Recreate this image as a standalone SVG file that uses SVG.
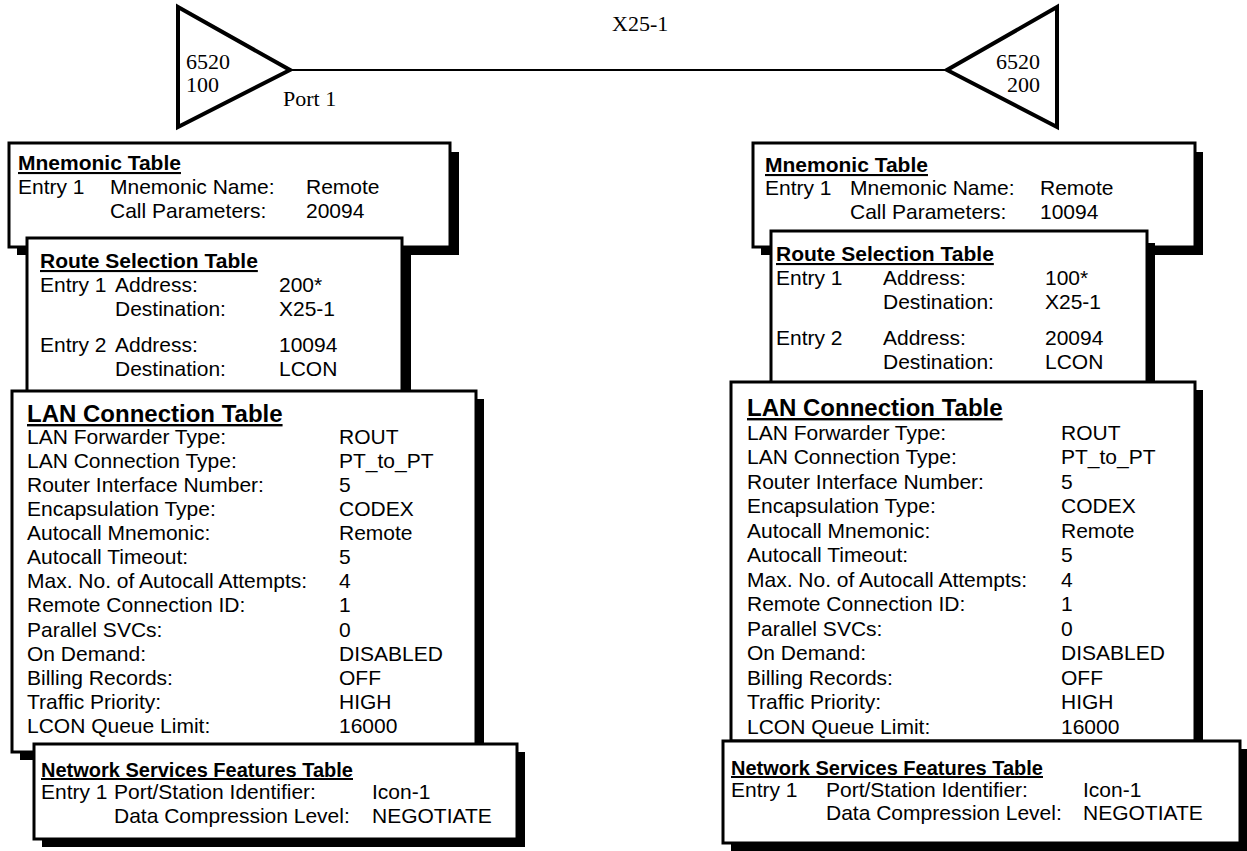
<svg xmlns="http://www.w3.org/2000/svg" width="1247" height="851" viewBox="0 0 1247 851">
  <style>
    .bg { fill: #ffffff; }
    .box { fill: #ffffff; stroke: #000000; stroke-width: 3; }
    .shadow { fill: #000000; }
    .node { fill: #ffffff; stroke: #000000; stroke-width: 4; stroke-linejoin: miter; }
    .link { stroke: #000000; stroke-width: 2; fill: none; }
    .serif { font-family: "Liberation Serif", "Times New Roman", serif; font-size: 22px; fill: #000; }
    .t { font-family: "Liberation Sans", Arial, sans-serif; font-size: 21px; fill: #000; }
    .h { font-family: "Liberation Sans", Arial, sans-serif; font-size: 21px; font-weight: bold; text-decoration: underline; fill: #000; }
    .hl { font-size: 24px; }
    .hs { font-size: 20px; }
  </style>

  <rect class="bg" x="0" y="0" width="1247" height="851"/>

  <!-- X.25 link between the two switches -->
  <g id="connectors">
    <line class="link" x1="290" y1="70" x2="947" y2="70"/>
    <text class="serif" x="612" y="31">X25-1</text>
    <text class="serif" x="283" y="106">Port 1</text>
  </g>

  <!-- switch 100 -->
  <g id="node-6520-100">
    <polygon class="node" points="178,7 290,70 178,127"/>
    <text class="serif" x="186" y="69">6520</text>
    <text class="serif" x="186" y="92">100</text>
  </g>

  <!-- switch 200 -->
  <g id="node-6520-200">
    <polygon class="node" points="1057,7 947,70 1057,127"/>
    <text class="serif" x="1040" y="69" text-anchor="end">6520</text>
    <text class="serif" x="1040" y="92" text-anchor="end">200</text>
  </g>

  <!-- ===== tables for switch 100 ===== -->
  <g id="mnemonic-100">
    <rect class="shadow" x="17" y="152" width="442" height="103"/>
    <rect class="box" x="9" y="143" width="441" height="104"/>
    <text class="h" x="18" y="170">Mnemonic Table</text>
    <text class="t" x="18" y="194">Entry 1</text>
    <text class="t" x="110" y="194">Mnemonic Name:</text>
    <text class="t" x="306" y="194">Remote</text>
    <text class="t" x="110" y="218">Call Parameters:</text>
    <text class="t" x="306" y="218">20094</text>
  </g>

  <g id="route-100">
    <rect class="shadow" x="35" y="251" width="376" height="141"/>
    <rect class="box" x="27" y="238" width="375" height="154"/>
    <text class="h" x="40" y="268">Route Selection Table</text>
    <text class="t" x="40" y="292">Entry 1</text>
    <text class="t" x="115" y="292">Address:</text>
    <text class="t" x="279" y="292">200*</text>
    <text class="t" x="115" y="316">Destination:</text>
    <text class="t" x="279" y="316">X25-1</text>
    <text class="t" x="40" y="352">Entry 2</text>
    <text class="t" x="115" y="352">Address:</text>
    <text class="t" x="279" y="352">10094</text>
    <text class="t" x="115" y="376">Destination:</text>
    <text class="t" x="279" y="376">LCON</text>
  </g>

  <g id="lan-100">
    <rect class="shadow" x="20" y="399" width="464" height="361"/>
    <rect class="box" x="12" y="391" width="464" height="361"/>
    <text class="h hl" x="27" y="422">LAN Connection Table</text>
    <g class="t">
      <text x="27" y="444">LAN Forwarder Type:</text><text x="339" y="444">ROUT</text>
      <text x="27" y="468">LAN Connection Type:</text><text x="339" y="468">PT_to_PT</text>
      <text x="27" y="492">Router Interface Number:</text><text x="339" y="492">5</text>
      <text x="27" y="516">Encapsulation Type:</text><text x="339" y="516">CODEX</text>
      <text x="27" y="540">Autocall Mnemonic:</text><text x="339" y="540">Remote</text>
      <text x="27" y="564">Autocall Timeout:</text><text x="339" y="564">5</text>
      <text x="27" y="588">Max. No. of Autocall Attempts:</text><text x="339" y="588">4</text>
      <text x="27" y="612">Remote Connection ID:</text><text x="339" y="612">1</text>
      <text x="27" y="637">Parallel SVCs:</text><text x="339" y="637">0</text>
      <text x="27" y="661">On Demand:</text><text x="339" y="661">DISABLED</text>
      <text x="27" y="685">Billing Records:</text><text x="339" y="685">OFF</text>
      <text x="27" y="709">Traffic Priority:</text><text x="339" y="709">HIGH</text>
      <text x="27" y="733">LCON Queue Limit:</text><text x="339" y="733">16000</text>
    </g>
  </g>

  <g id="nsf-100">
    <rect class="shadow" x="42" y="752" width="483" height="95"/>
    <rect class="box" x="34" y="744" width="483" height="95"/>
    <text class="h hs" x="41" y="777">Network Services Features Table</text>
    <text class="t" x="41" y="799">Entry 1</text>
    <text class="t" x="114" y="799">Port/Station Identifier:</text>
    <text class="t" x="372" y="799">Icon-1</text>
    <text class="t" x="114" y="823">Data Compression Level:</text>
    <text class="t" x="372" y="823">NEGOTIATE</text>
  </g>

  <!-- ===== tables for switch 200 ===== -->
  <g id="mnemonic-200">
    <rect class="shadow" x="761" y="152" width="442" height="103"/>
    <rect class="box" x="753" y="143" width="442" height="104"/>
    <text class="h" x="765" y="172">Mnemonic Table</text>
    <text class="t" x="765" y="195">Entry 1</text>
    <text class="t" x="850" y="195">Mnemonic Name:</text>
    <text class="t" x="1040" y="195">Remote</text>
    <text class="t" x="850" y="219">Call Parameters:</text>
    <text class="t" x="1040" y="219">10094</text>
  </g>

  <g id="route-200">
    <rect class="shadow" x="779" y="243" width="376" height="140"/>
    <rect class="box" x="771" y="231" width="376" height="152"/>
    <text class="h" x="776" y="261">Route Selection Table</text>
    <text class="t" x="776" y="285">Entry 1</text>
    <text class="t" x="883" y="285">Address:</text>
    <text class="t" x="1045" y="285">100*</text>
    <text class="t" x="883" y="309">Destination:</text>
    <text class="t" x="1045" y="309">X25-1</text>
    <text class="t" x="776" y="345">Entry 2</text>
    <text class="t" x="883" y="345">Address:</text>
    <text class="t" x="1045" y="345">20094</text>
    <text class="t" x="883" y="369">Destination:</text>
    <text class="t" x="1045" y="369">LCON</text>
  </g>

  <g id="lan-200">
    <rect class="shadow" x="739" y="390" width="464" height="359"/>
    <rect class="box" x="731" y="382" width="464" height="359"/>
    <text class="h hl" x="747" y="416">LAN Connection Table</text>
    <g class="t">
      <text x="747" y="440">LAN Forwarder Type:</text><text x="1061" y="440">ROUT</text>
      <text x="747" y="464">LAN Connection Type:</text><text x="1061" y="464">PT_to_PT</text>
      <text x="747" y="489">Router Interface Number:</text><text x="1061" y="489">5</text>
      <text x="747" y="513">Encapsulation Type:</text><text x="1061" y="513">CODEX</text>
      <text x="747" y="538">Autocall Mnemonic:</text><text x="1061" y="538">Remote</text>
      <text x="747" y="562">Autocall Timeout:</text><text x="1061" y="562">5</text>
      <text x="747" y="587">Max. No. of Autocall Attempts:</text><text x="1061" y="587">4</text>
      <text x="747" y="611">Remote Connection ID:</text><text x="1061" y="611">1</text>
      <text x="747" y="636">Parallel SVCs:</text><text x="1061" y="636">0</text>
      <text x="747" y="660">On Demand:</text><text x="1061" y="660">DISABLED</text>
      <text x="747" y="685">Billing Records:</text><text x="1061" y="685">OFF</text>
      <text x="747" y="709">Traffic Priority:</text><text x="1061" y="709">HIGH</text>
      <text x="747" y="734">LCON Queue Limit:</text><text x="1061" y="734">16000</text>
    </g>
  </g>

  <g id="nsf-200">
    <rect class="shadow" x="731" y="749" width="517" height="102"/>
    <rect class="box" x="723" y="741" width="517" height="102"/>
    <text class="h hs" x="731" y="775">Network Services Features Table</text>
    <text class="t" x="731" y="797">Entry 1</text>
    <text class="t" x="826" y="797">Port/Station Identifier:</text>
    <text class="t" x="1083" y="797">Icon-1</text>
    <text class="t" x="826" y="820">Data Compression Level:</text>
    <text class="t" x="1083" y="820">NEGOTIATE</text>
  </g>
</svg>
